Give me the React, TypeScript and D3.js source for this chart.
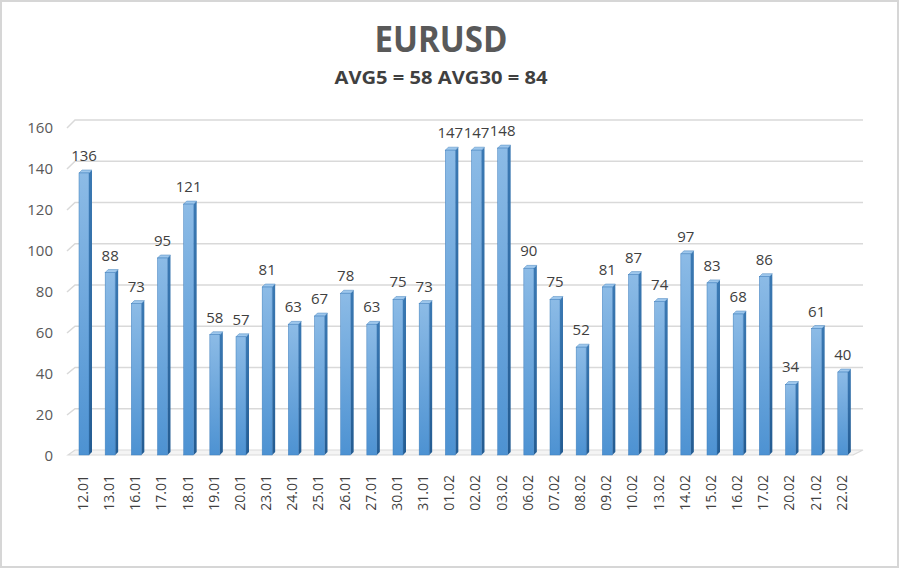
import React from "react";
import * as d3 from "d3";

const dates = ["12.01","13.01","16.01","17.01","18.01","19.01","20.01","23.01","24.01","25.01","26.01","27.01","30.01","31.01","01.02","02.02","03.02","06.02","07.02","08.02","09.02","10.02","13.02","14.02","15.02","16.02","17.02","20.02","21.02","22.02"];
const values = [136,88,73,95,121,58,57,81,63,67,78,63,75,73,147,147,148,90,75,52,81,87,74,97,83,68,86,34,61,40];
const yTicks = [0,20,40,60,80,100,120,140,160];
const title = "EURUSD";
const subtitle = "AVG5 = 58 AVG30 = 84";

const FONT = "'Open Sans', 'DejaVu Sans', sans-serif";

export default function App() {
  const x = d3.scaleBand<string>().domain(dates).range([68, 853]);
  const yBar = d3.scaleLinear().domain([0, 160]).range([455, 123.2]);
  const yFront = d3.scaleLinear().domain([0, 160]).range([456, 128]);
  const yBack = d3.scaleLinear().domain([0, 160]).range([450, 120]);
  const w = 10, dep = 3;

  return (
    <svg width={900} height={570} style={{ position: "absolute", left: 0, top: 0, background: "#fff" }}>
      <defs>
        <linearGradient id="front" x1="0" y1="0" x2="0" y2="1">
          <stop offset="0" stopColor="#8cbbe6" />
          <stop offset="1" stopColor="#4d92d2" />
        </linearGradient>
        <linearGradient id="side" x1="0" y1="0" x2="0" y2="1">
          <stop offset="0" stopColor="#3b79b3" />
          <stop offset="1" stopColor="#245c92" />
        </linearGradient>
      </defs>
      <rect x={1} y={1} width={897} height={566} fill="#fff" stroke="#d6d6d6" strokeWidth={2} />
      <text x={441} y={52} textAnchor="middle" fontFamily={FONT} fontWeight="bold" fontSize={36} fill="#595959" textLength={133} lengthAdjust="spacingAndGlyphs">{title}</text>
      <text x={441} y={84} textAnchor="middle" fontFamily={FONT} fontWeight="bold" fontSize={17} fill="#404040" textLength={213} lengthAdjust="spacingAndGlyphs">{subtitle}</text>

      {/* floor */}
      <polygon points={`68,${yFront(0) - 1} 75,${yBack(0)} 863,${yBack(0)} 853,${yFront(0) - 1}`} fill="#f4f4f4" stroke="#d9d9d9" strokeWidth={1.2} />
      {/* gridlines */}
      {yTicks.filter(v => v > 0).map(v => (
        <polyline key={v} points={`67,${yFront(v)} 75,${yBack(v)} 863,${yBack(v)}`} fill="none" stroke="#d9d9d9" strokeWidth={1.5} />
      ))}
      {/* y labels */}
      {yTicks.map(v => (
        <text key={v} x={53} y={yFront(v)} dy="0.35em" textAnchor="end" fontFamily={FONT} fontSize={15} fill="#595959">{v}</text>
      ))}

      {/* bars */}
      {dates.map((d, i) => {
        const fx = (x(d) as number) + 11;
        const top = yBar(values[i]);
        const base = yBar(0);
        return (
          <g key={d}>
            <polygon points={`${fx + w},${top} ${fx + w + dep},${top - dep} ${fx + w + dep},${base - dep} ${fx + w},${base}`} fill="url(#side)" />
            <polygon points={`${fx},${top} ${fx + dep},${top - dep} ${fx + w + dep},${top - dep} ${fx + w},${top}`} fill="#9ec7ec" stroke="#4a86bf" strokeWidth={0.5} />
            <rect x={fx} y={top} width={w} height={base - top} fill="url(#front)" stroke="#3f7fbd" strokeWidth={0.5} />
            <text x={fx + 5} y={top - 12} textAnchor="middle" fontFamily={FONT} fontSize={15} fill="#404040">{values[i]}</text>
            <text transform={`translate(${fx + 4},475) rotate(-90)`} dy="0.35em" textAnchor="end" fontFamily={FONT} fontSize={14} fill="#404040">{d}</text>
          </g>
        );
      })}
    </svg>
  );
}
